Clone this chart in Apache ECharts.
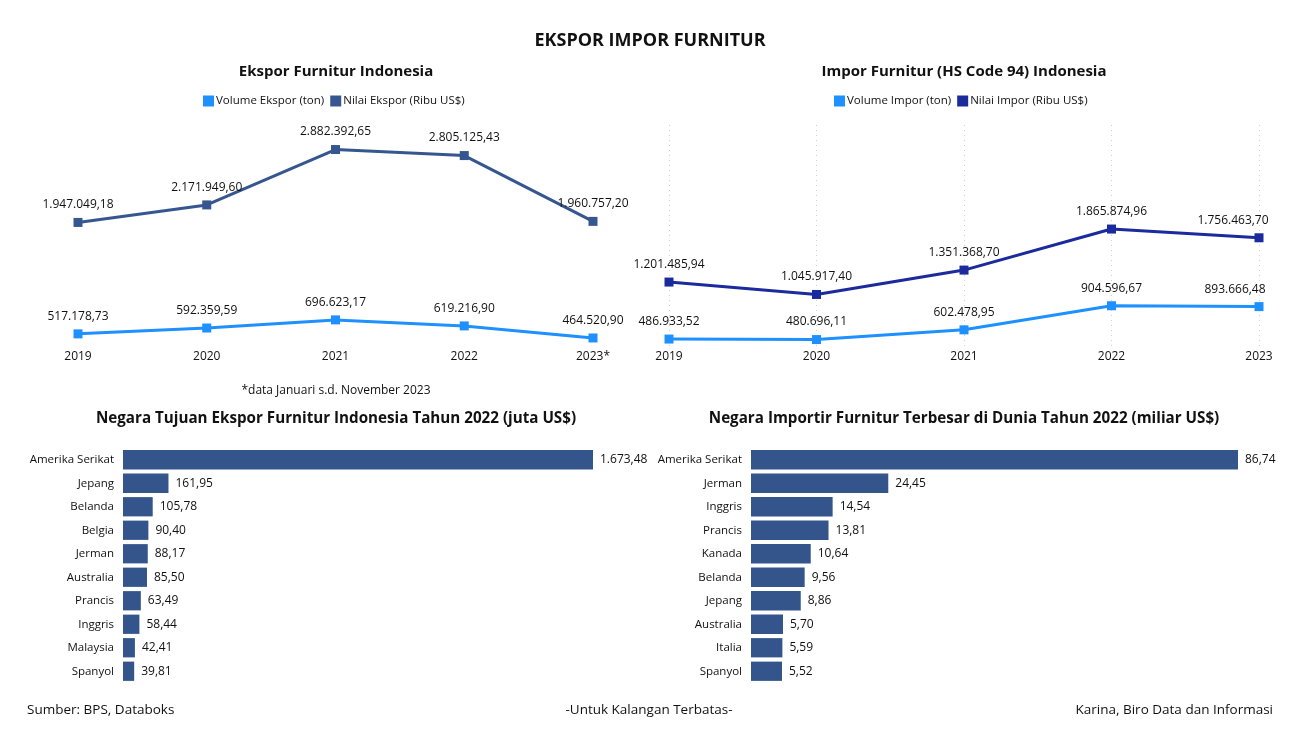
<!DOCTYPE html>
<html>
<head>
<meta charset="utf-8">
<script src="https://cdn.jsdelivr.net/npm/echarts@6/dist/echarts.min.js"></script>
<style>
html,body{margin:0;padding:0;background:#fff;}
#c{width:1299px;height:749px;}
</style>
</head>
<body>
<div id="c"></div>
<script>
// ---- Data ----
const years = ['2019', '2020', '2021', '2022', '2023'];
const eksporYearLabels = ['2019', '2020', '2021', '2022', '2023*'];
const volumeEkspor = [517178.73, 592359.59, 696623.17, 619216.90, 464520.90];
const nilaiEkspor = [1947049.18, 2171949.60, 2882392.65, 2805125.43, 1960757.20];
const volumeImpor = [486933.52, 480696.11, 602478.95, 904596.67, 893666.48];
const nilaiImpor = [1201485.94, 1045917.40, 1351368.70, 1865874.96, 1756463.70];

const tujuanEksporNegara = ['Amerika Serikat', 'Jepang', 'Belanda', 'Belgia', 'Jerman', 'Australia', 'Prancis', 'Inggris', 'Malaysia', 'Spanyol'];
const tujuanEksporNilai = [1673.48, 161.95, 105.78, 90.40, 88.17, 85.50, 63.49, 58.44, 42.41, 39.81];
const importirNegara = ['Amerika Serikat', 'Jerman', 'Inggris', 'Prancis', 'Kanada', 'Belanda', 'Jepang', 'Australia', 'Italia', 'Spanyol'];
const importirNilai = [86.74, 24.45, 14.54, 13.81, 10.64, 9.56, 8.86, 5.70, 5.59, 5.52];

// ---- Helpers ----
function fmtID(v) {
  const parts = v.toFixed(2).split('.');
  parts[0] = parts[0].replace(/\B(?=(\d{3})+(?!\d))/g, '.');
  return parts[0] + ',' + parts[1];
}
const FONT = '"Open Sans", "Noto Sans", sans-serif';
const C_VOL = '#1e90ff';
const C_NE = '#365690';
const C_NI = '#1b2a9c';
const C_BAR = '#34558b';
const TXT = '#111';

function lineSeries(name, data, color, xi, lastOffset) {
  return {
    type: 'line', name: name, xAxisIndex: xi, yAxisIndex: xi,
    data: data.map((v, i) => {
      const d = { value: v };
      if (i === data.length - 1 && lastOffset) d.label = { offset: lastOffset };
      return d;
    }),
    symbol: 'rect', symbolSize: 9,
    lineStyle: { color: color, width: 3 },
    itemStyle: { color: color },
    label: { show: true, position: 'top', distance: 7, color: TXT, fontFamily: FONT, fontSize: 12,
      formatter: p => fmtID(p.value) },
    emphasis: { disabled: true }, animation: false
  };
}
function barSeries(data, xi) {
  return {
    type: 'bar', xAxisIndex: xi, yAxisIndex: xi, data: data,
    barCategoryGap: '18%',
    itemStyle: { color: C_BAR },
    label: { show: true, position: 'right', distance: 7, color: TXT, fontFamily: FONT, fontSize: 12,
      formatter: p => fmtID(p.value) },
    emphasis: { disabled: true }, animation: false
  };
}
function t(text, pos, size, weight) {
  return Object.assign({ text: text, padding: 0,
    textStyle: { fontSize: size, fontWeight: weight, color: TXT, fontFamily: FONT } }, pos);
}

const chart = echarts.init(document.getElementById('c'));
const option = {
  backgroundColor: '#fff',
  animation: false,
  textStyle: { fontFamily: FONT },
  title: [
    t('EKSPOR IMPOR FURNITUR', { left: 650, top: 32, textAlign: 'center' }, 18, 'bold'),
    t('Ekspor Furnitur Indonesia', { left: 336, top: 64, textAlign: 'center' }, 15, 'bold'),
    t('Impor Furnitur (HS Code 94) Indonesia', { left: 964, top: 64, textAlign: 'center' }, 15, 'bold'),
    t('*data Januari s.d. November 2023', { left: 336, top: 385, textAlign: 'center' }, 12, 'normal'),
    t('Negara Tujuan Ekspor Furnitur Indonesia Tahun 2022 (juta US$)', { left: 336, top: 411, textAlign: 'center' }, 15.2, 'bold'),
    t('Negara Importir Furnitur Terbesar di Dunia Tahun 2022 (miliar US$)', { left: 964, top: 411, textAlign: 'center' }, 15.2, 'bold'),
    t('Sumber: BPS, Databoks', { left: 27, top: 703 }, 13.5, 'normal'),
    t('-Untuk Kalangan Terbatas-', { left: 649, top: 703, textAlign: 'center' }, 13.5, 'normal'),
    t('Karina, Biro Data dan Informasi', { right: 26, top: 703 }, 13.5, 'normal')
  ],
  legend: [
    { data: ['Volume Ekspor (ton)', 'Nilai Ekspor (Ribu US$)'], left: 336 - 133, top: 95, padding: 0,
      itemWidth: 11, itemHeight: 11, itemGap: 6, icon: 'rect',
      textStyle: { fontSize: 11.5, color: TXT, fontFamily: FONT, padding: [0, 0, 0, -3] } },
    { data: ['Volume Impor (ton)', 'Nilai Impor (Ribu US$)'], left: 964 - 130, top: 95, padding: 0,
      itemWidth: 11, itemHeight: 11, itemGap: 6, icon: 'rect',
      textStyle: { fontSize: 11.5, color: TXT, fontFamily: FONT, padding: [0, 0, 0, -3] } }
  ],
  grid: [
    { left: 78, right: 706, top: 117, bottom: 749 - 343 },
    { left: 669, right: 40, top: 125, bottom: 749 - 346 },
    { left: 123, right: 706, top: 448, bottom: 66 },
    { left: 751, right: 61, top: 448, bottom: 66 }
  ],
  xAxis: [
    { gridIndex: 0, type: 'category', data: eksporYearLabels, boundaryGap: false,
      axisLine: { show: false }, axisTick: { show: false },
      axisLabel: { color: TXT, fontSize: 12, fontFamily: FONT, margin: 8 } },
    { gridIndex: 1, type: 'category', data: years, boundaryGap: false,
      axisLine: { show: false }, axisTick: { show: false },
      splitLine: { show: true, lineStyle: { type: [1, 4], color: '#cfcfcf', width: 1 } },
      axisLabel: { color: TXT, fontSize: 12, fontFamily: FONT, margin: 5 } },
    { gridIndex: 2, type: 'value', min: 0, max: 1673.48, show: false },
    { gridIndex: 3, type: 'value', min: 0, max: 86.74, show: false }
  ],
  yAxis: [
    { gridIndex: 0, type: 'value', min: 400000, max: 3300000, show: false },
    { gridIndex: 1, type: 'value', min: 400000, max: 3170000, show: false },
    { gridIndex: 2, type: 'category', data: tujuanEksporNegara, inverse: true,
      axisLine: { show: false }, axisTick: { show: false },
      axisLabel: { color: TXT, fontSize: 11.5, fontFamily: FONT, margin: 9 } },
    { gridIndex: 3, type: 'category', data: importirNegara, inverse: true,
      axisLine: { show: false }, axisTick: { show: false },
      axisLabel: { color: TXT, fontSize: 11.5, fontFamily: FONT, margin: 9 } }
  ],
  series: [
    lineSeries('Volume Ekspor (ton)', volumeEkspor, C_VOL, 0, null),
    lineSeries('Nilai Ekspor (Ribu US$)', nilaiEkspor, C_NE, 0, null),
    lineSeries('Volume Impor (ton)', volumeImpor, C_VOL, 1, [-24, 0]),
    lineSeries('Nilai Impor (Ribu US$)', nilaiImpor, C_NI, 1, [-26, 0]),
    barSeries(tujuanEksporNilai, 2),
    barSeries(importirNilai, 3)
  ]
};
chart.setOption(option);
</script>
</body>
</html>
